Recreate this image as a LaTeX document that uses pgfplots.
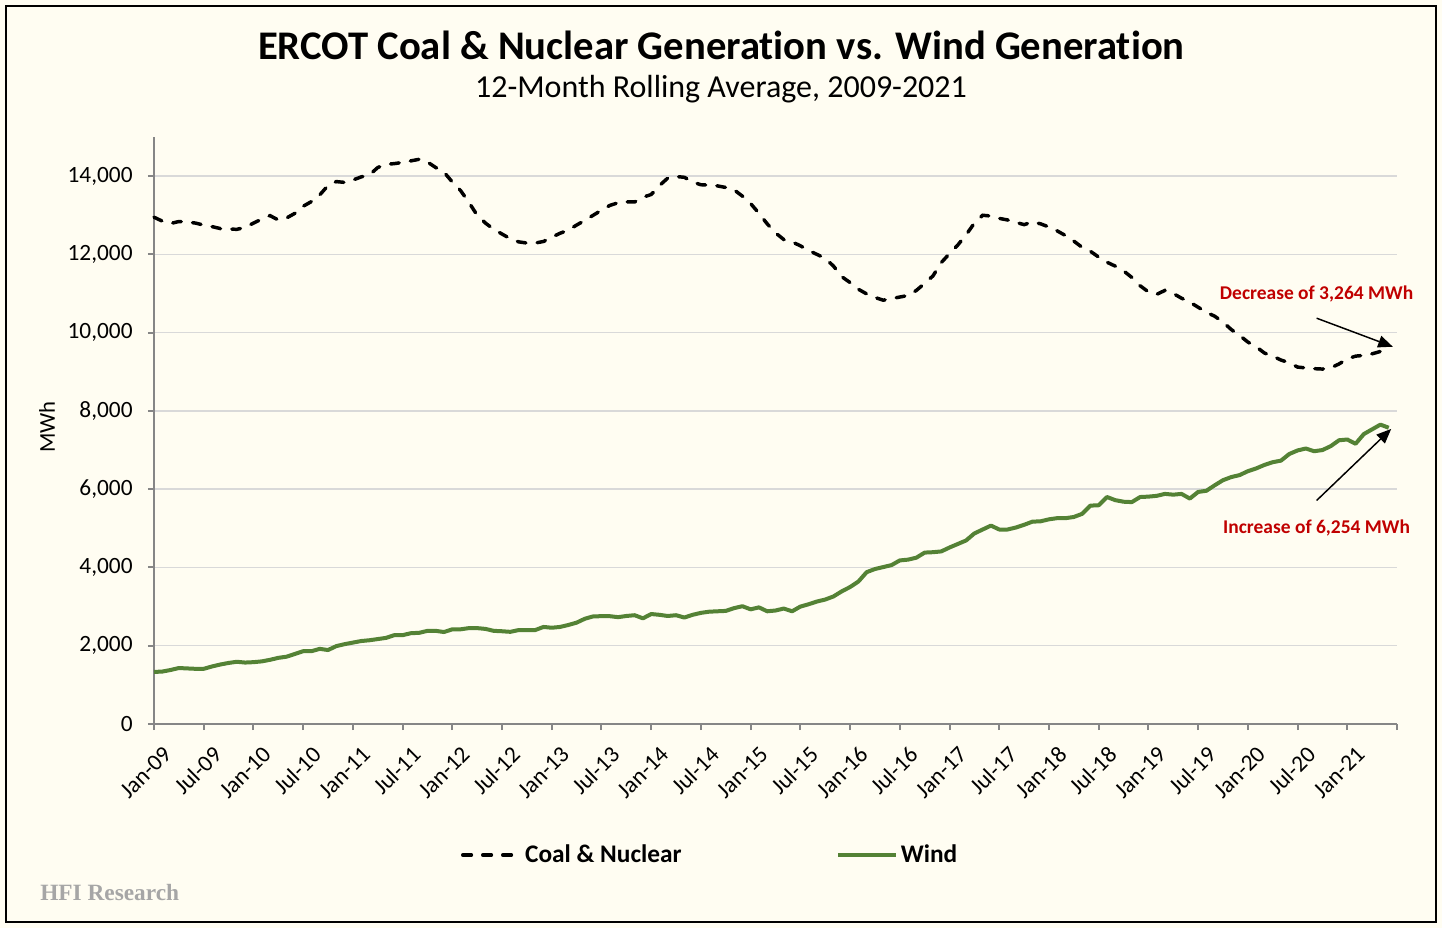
\documentclass[border=0pt]{standalone}
\usepackage{pgfplots}
\usepackage{pgfplotstable}
\pgfplotsset{compat=1.18}
\usepackage{fontspec}
\setmainfont{Carlito}[Ligatures={NoCommon}]
\newfontfamily\timesfont{Liberation Serif}
\usetikzlibrary{arrows.meta}
\definecolor{bg}{HTML}{FFFDF2}
\definecolor{windgreen}{HTML}{548235}
\definecolor{axgray}{HTML}{868686}
\definecolor{gridgray}{HTML}{D9D9D9}
\definecolor{annred}{HTML}{C00000}
\definecolor{hfigray}{HTML}{A6A6A6}

\pgfplotstableread{
m coal wind
0 12950 1330
1 12850 1340
2 12790 1380
3 12840 1430
4 12830 1420
5 12800 1410
6 12750 1410
7 12710 1470
8 12660 1520
9 12650 1560
10 12640 1590
11 12690 1570
12 12800 1580
13 12900 1600
14 12990 1640
15 12880 1690
16 12930 1720
17 13050 1790
18 13230 1860
19 13350 1860
20 13520 1920
21 13760 1890
22 13860 1990
23 13840 2040
24 13900 2080
25 13980 2120
26 14030 2140
27 14220 2170
28 14300 2200
29 14320 2270
30 14350 2270
31 14390 2320
32 14430 2330
33 14360 2380
34 14220 2380
35 14100 2350
36 13850 2420
37 13630 2420
38 13330 2450
39 13000 2450
40 12800 2430
41 12640 2380
42 12520 2370
43 12400 2355
44 12320 2400
45 12290 2400
46 12290 2400
47 12330 2480
48 12440 2460
49 12540 2480
50 12620 2530
51 12750 2590
52 12870 2690
53 13000 2750
54 13130 2755
55 13250 2755
56 13320 2730
57 13340 2760
58 13340 2780
59 13460 2700
60 13530 2810
61 13760 2790
62 13950 2760
63 13990 2780
64 13970 2720
65 13850 2790
66 13780 2840
67 13770 2870
68 13750 2880
69 13710 2890
70 13650 2960
71 13490 3010
72 13300 2930
73 13050 2980
74 12780 2880
75 12550 2900
76 12380 2950
77 12320 2880
78 12220 3000
79 12100 3060
80 12000 3130
81 11900 3180
82 11700 3260
83 11430 3390
84 11280 3500
85 11110 3640
86 10990 3880
87 10900 3960
88 10830 4010
89 10870 4060
90 10910 4180
91 10950 4200
92 11080 4250
93 11260 4380
94 11450 4390
95 11790 4410
96 12020 4510
97 12240 4600
98 12500 4690
99 12800 4870
100 13000 4970
101 12980 5070
102 12920 4970
103 12880 4970
104 12820 5020
105 12760 5090
106 12830 5170
107 12780 5180
108 12700 5230
109 12600 5260
110 12480 5260
111 12340 5290
112 12180 5370
113 12080 5580
114 11930 5590
115 11800 5800
116 11700 5720
117 11580 5680
118 11410 5670
119 11200 5800
120 11040 5810
121 10980 5830
122 11080 5880
123 11000 5860
124 10880 5880
125 10780 5760
126 10650 5930
127 10520 5960
128 10420 6100
129 10270 6230
130 10080 6310
131 9930 6360
132 9760 6460
133 9640 6530
134 9480 6620
135 9400 6690
136 9300 6730
137 9230 6900
138 9120 6990
139 9100 7040
140 9080 6970
141 9070 7000
142 9100 7100
143 9200 7250
144 9330 7270
145 9400 7160
146 9420 7410
147 9460 7530
148 9520 7650
149 9650 7570
}\ercot

\begin{document}
\begin{tikzpicture}[x=1pt,y=1pt]
\fill[bg] (0,0) rectangle (1081.5,696);
\draw[black, line width=0.9pt] (4.5,4.5) rectangle (1077,691.5);
\node[font=\bfseries\fontsize{30.5}{36}\selectfont, anchor=center] at (541,662.25) {ERCOT Coal \& Nuclear Generation vs. Wind Generation};
\node[font=\fontsize{24}{28}\selectfont, anchor=center] at (540.75,629.25) {12-Month Rolling Average, 2009-2021};
\node[font=\timesfont\bfseries\fontsize{17.5}{20}\selectfont, text=hfigray, anchor=west, inner sep=0pt] at (30,26.25) {HFI Research};
\node[font=\fontsize{17}{20}\selectfont, rotate=90] at (35.25,375.75) {MWh};
\begin{axis}[
  at={(115.5pt,153pt)}, anchor=south west,
  scale only axis, width=932.25pt, height=440.25pt,
  xmin=0, xmax=150, ymin=0, ymax=15000,
  axis x line*=bottom, axis y line*=left,
  axis line style={axgray, line width=1.5pt},
  tick align=outside, major tick length=4.5pt,
  tick style={axgray, line width=1.5pt},
  xtick={0,6,...,150},
  xticklabels={Jan-09,Jul-09,Jan-10,Jul-10,Jan-11,Jul-11,Jan-12,Jul-12,Jan-13,Jul-13,Jan-14,Jul-14,Jan-15,Jul-15,Jan-16,Jul-16,Jan-17,Jul-17,Jan-18,Jul-18,Jan-19,Jul-19,Jan-20,Jul-20,Jan-21,{}},
  ytick={0,2000,...,14000},
  scaled y ticks=false,
  ticklabel style={font=\fontsize{17.5}{20}\selectfont},
  yticklabel style={xshift=-8pt, /pgf/number format/.cd, 1000 sep={,}, assume math mode=true},
  xticklabel style={xshift=6pt, yshift=-11pt, rotate=45, anchor=north east, inner sep=0pt},
  ymajorgrids, grid style={gridgray, line width=1.1pt},
  clip=false,
  legend style={draw=none, fill=none, at={(0.4477,-0.2232)}, anchor=center,
    legend columns=2, font=\bfseries\fontsize{19}{22}\selectfont,
    /tikz/every even column/.append style={column sep=114pt}},
  legend image code/.code={\draw[#1] (0pt,0pt) -- (43.5pt,0pt);},
]
\addplot[black, line width=2.6pt, line cap=round, dash pattern=on 6.5pt off 8.5pt] table[x=m, y=coal] {\ercot};
\addlegendentry{Coal \& Nuclear}
\addplot[windgreen, line width=3pt, line join=round] table[x=m, y=wind] {\ercot};
\addlegendentry{Wind}
\draw[black, line width=1.1pt, -{Triangle[length=11pt,width=9pt]}] (axis cs:140.3,10370) -- (axis cs:149.5,9640);
\draw[black, line width=1.1pt, -{Triangle[length=11pt,width=9pt]}] (axis cs:140.3,5712) -- (axis cs:149.3,7540);
\node[text=annred, font=\bfseries\fontsize{14.6}{17}\selectfont] at (axis cs:140.3,10990) {Decrease of 3,264 MWh};
\node[text=annred, font=\bfseries\fontsize{14.6}{17}\selectfont] at (axis cs:140.3,5020) {Increase of 6,254 MWh};
\end{axis}
\end{tikzpicture}
\end{document}
